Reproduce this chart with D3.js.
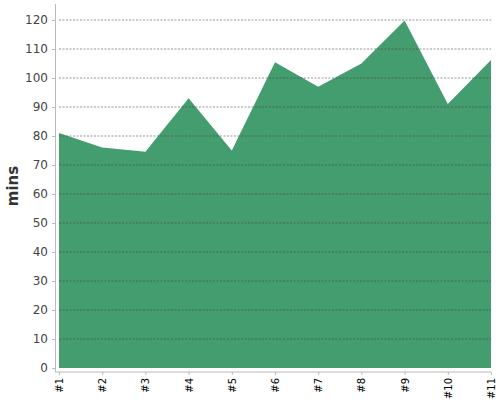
<!DOCTYPE html>
<html>
<head>
<meta charset="utf-8">
<script src="https://cdn.jsdelivr.net/npm/d3@7"></script>
<style>
    body { margin: 0; background: #fff; }
    .tick text { font-family: "DejaVu Sans", sans-serif; fill: #444; }
    .grid line { stroke: #444; stroke-dasharray: 2,1.5; stroke-width: 0.7; opacity: 0.8; }
</style>
</head>
<body>
<div id="chart"></div>
<script>
// Minutes per run.
const categories = ["#1", "#2", "#3", "#4", "#5", "#6", "#7", "#8", "#9", "#10", "#11"];
const minutes = [81, 76, 74.6, 93, 75, 105.4, 97, 105, 119.8, 91, 106.2];
const yTicks = [0, 10, 20, 30, 40, 50, 60, 70, 80, 90, 100, 110, 120];

const WIDTH = 500;
const HEIGHT = 400;
const margin = { top: 20, right: 9, bottom: 32, left: 59 };

const svg = d3.select("#chart").append("svg")
    .attr("width", WIDTH)
    .attr("height", HEIGHT);

const x = d3.scalePoint()
    .domain(categories)
    .range([margin.left, WIDTH - margin.right]);

const y = d3.scaleLinear()
    .domain([0, 120])
    .range([HEIGHT - margin.bottom, margin.top]);

const area = d3.area()
    .x((d, i) => x(categories[i]))
    .y0(y(0))
    .y1(d => y(d));

svg.append("path")
    .datum(minutes)
    .attr("fill", "#449d6e")
    .attr("d", area);

// dashed grid on top of the area
svg.append("g")
    .attr("class", "grid")
    .selectAll("line")
    .data(yTicks.filter(t => t > 0))
    .join("line")
    .attr("x1", margin.left)
    .attr("x2", WIDTH - margin.right)
    .attr("y1", d => y(d))
    .attr("y2", d => y(d));

const yAxis = svg.append("g")
    .attr("transform", `translate(${margin.left - 4},0)`)
    .call(d3.axisLeft(y).tickValues(yTicks).tickSize(3).tickPadding(4));
yAxis.select(".domain").attr("stroke", "#bbb").attr("d", `M0.5,4V${y(0) + 4}`);
yAxis.selectAll(".tick line").attr("stroke", "#bbb");
yAxis.selectAll(".tick text").style("font-size", "12px");

const xAxis = svg.append("g")
    .attr("transform", `translate(0,${y(0) + 4})`)
    .call(d3.axisBottom(x).tickSize(3).tickPadding(4));
xAxis.select(".domain").attr("stroke", "#bbb").attr("d", `M${margin.left - 4},0H${WIDTH - margin.right}`);
xAxis.selectAll(".tick line").attr("stroke", "#bbb");
xAxis.selectAll(".tick text")
    .style("font-size", "10px")
    .style("fill", "#000")
    .attr("transform", "rotate(-90)")
    .attr("text-anchor", "end")
    .attr("x", -6)
    .attr("y", 0)
    .attr("dy", "0.35em");

svg.append("text")
    .attr("transform", `translate(18,${(y(0) + y(120)) / 2 - 8}) rotate(-90)`)
    .attr("text-anchor", "middle")
    .style("font-family", "DejaVu Sans, sans-serif")
    .style("font-weight", "bold")
    .style("font-size", "15px")
    .style("fill", "#333")
    .text("mins");
</script>
</body>
</html>
